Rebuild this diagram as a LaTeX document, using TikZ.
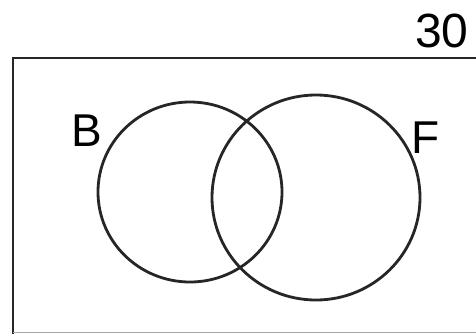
\documentclass[tikz,border=0pt]{standalone}
\usepackage{fontspec}
\setmainfont{Liberation Sans}
\begin{document}
\begin{tikzpicture}[x=1pt,y=-1pt,
  ln/.style={line width=2.8pt,black!85},
  lbl/.style={inner sep=0pt,font=\fontsize{46}{46}\selectfont}]
\useasboundingbox (0,0) rectangle (476,333);
\clip (0,0) rectangle (476,333);
\draw[ln] (480,58) -- (13,58) -- (13,336);
\draw[line width=1pt,black!35] (13,332) -- (480,332);
\draw[ln] (190,192) ellipse [x radius=92,y radius=90];
\draw[ln] (316,197.5) ellipse [x radius=104,y radius=102.5];
\node[lbl] (b) at (87,131) {B};
\node[lbl] (f) at (426,138) {F};
\node[lbl,font=\fontsize{48}{48}\selectfont] (n) at (442,31) {30};
\end{tikzpicture}
\end{document}
